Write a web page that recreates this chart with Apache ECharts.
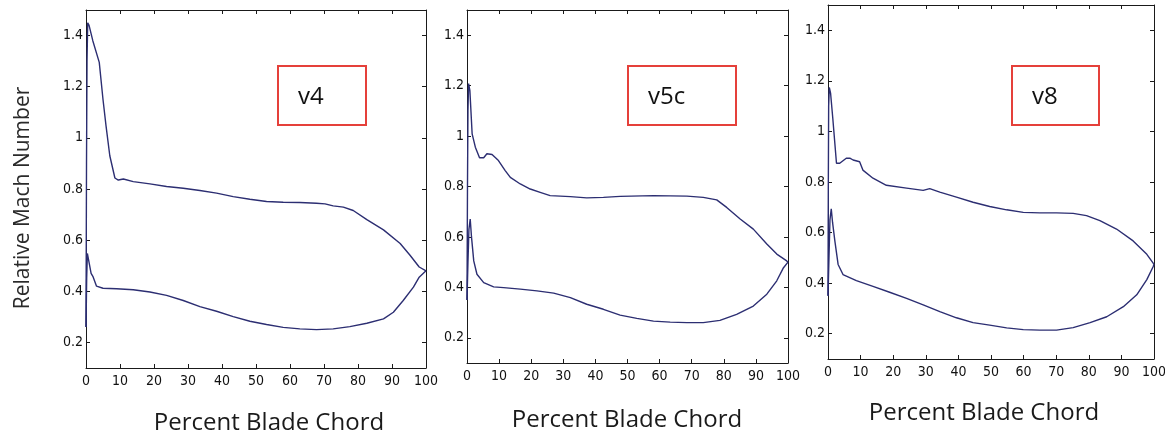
<!DOCTYPE html>
<html>
<head>
<meta charset="utf-8">
<script src="https://cdn.jsdelivr.net/npm/echarts@6/dist/echarts.min.js"></script>
<style>
  html, body { margin: 0; padding: 0; background: #ffffff; }
  #chart { width: 1165px; height: 435px; }
</style>
</head>
<body>
<div id="chart"></div>
<script>
// Relative Mach number along the blade chord for three blade designs.
// Each design has an upper (suction side) and lower (pressure side) trace, as [percent chord, Mach].
const v4Upper = [[0,0.26],[0.15,0.9],[0.3,1.3],[0.5,1.45],[0.9,1.44],[2.0,1.38],[3.9,1.295],[5.0,1.15],[5.9,1.046],[7.0,0.93],[8.5,0.843],[9.5,0.835],[11,0.839],[13.9,0.829],[18.8,0.82],[23.7,0.81],[28.6,0.803],[33.5,0.794],[38.4,0.784],[43.3,0.77],[48.2,0.76],[53.1,0.751],[58,0.748],[62.9,0.747],[67.8,0.744],[70.3,0.742],[72.7,0.734],[75.7,0.729],[78.6,0.716],[82.6,0.68],[87.5,0.64],[92.4,0.587],[95.3,0.541],[98,0.495],[100,0.48]];
const v4Lower = [[0,0.26],[0.2,0.45],[0.4,0.548],[0.8,0.52],[1.5,0.47],[2.1,0.456],[3.1,0.42],[5,0.412],[9,0.41],[13.9,0.406],[18.8,0.397],[23.7,0.384],[28.6,0.364],[33.5,0.34],[38.4,0.322],[43.3,0.301],[48.2,0.283],[53.1,0.27],[58,0.259],[62.9,0.253],[67.8,0.25],[72.7,0.253],[77.6,0.262],[82.6,0.275],[87.5,0.292],[90.4,0.318],[93.3,0.364],[96.3,0.416],[98,0.455],[100,0.48]];

const v5cUpper = [[0,0.35],[0.15,0.8],[0.3,1.1],[0.5,1.208],[0.9,1.18],[1.6,1.009],[2.6,0.956],[3.9,0.914],[5.2,0.914],[6.2,0.93],[7.8,0.927],[9.8,0.903],[11.9,0.863],[13.5,0.836],[16.6,0.81],[19.7,0.79],[22.8,0.777],[25.9,0.764],[32.2,0.76],[37.3,0.755],[42.5,0.757],[47.7,0.761],[58.1,0.764],[68.5,0.762],[73.6,0.757],[77.8,0.747],[80.9,0.717],[85.1,0.671],[89.2,0.631],[93.4,0.572],[96.5,0.532],[99.6,0.505],[100,0.5]];
const v5cLower = [[0,0.35],[0.3,0.5],[0.6,0.63],[1.0,0.671],[1.4,0.6],[2.1,0.505],[3.1,0.452],[5.2,0.419],[8.3,0.402],[11.4,0.399],[16.6,0.393],[21.8,0.386],[27,0.377],[32.2,0.359],[37.3,0.333],[42.5,0.313],[47.7,0.29],[52.9,0.277],[58.1,0.266],[63.3,0.262],[68.5,0.26],[73.6,0.26],[78.8,0.269],[84,0.293],[89.2,0.326],[93.4,0.373],[96.5,0.426],[98.6,0.478],[100,0.5]];

const v8Upper = [[0,0.35],[0.1,0.8],[0.2,1.1],[0.4,1.174],[0.8,1.15],[1.5,1.047],[2.6,0.874],[3.6,0.874],[5.6,0.894],[6.7,0.894],[7.7,0.887],[9.7,0.88],[10.7,0.847],[13.8,0.815],[17.9,0.787],[24.1,0.776],[29.2,0.767],[31.2,0.774],[34.3,0.76],[39.4,0.74],[44.5,0.72],[49.6,0.703],[54.8,0.69],[59.9,0.68],[65,0.678],[70.1,0.678],[75.2,0.676],[79.3,0.667],[83.4,0.647],[88.5,0.614],[93.6,0.567],[97.8,0.514],[99.8,0.478],[100,0.475]];
const v8Lower = [[0,0.35],[0.3,0.5],[0.6,0.65],[1.0,0.694],[1.4,0.64],[2.1,0.567],[3.1,0.474],[4.6,0.434],[8.7,0.41],[13.8,0.387],[18.9,0.364],[24.1,0.34],[29.2,0.314],[34.3,0.287],[39.4,0.263],[44.5,0.244],[49.6,0.234],[54.8,0.223],[59.9,0.216],[65,0.214],[70.1,0.214],[75.2,0.224],[80.4,0.244],[85.5,0.267],[90.6,0.307],[94.7,0.354],[97.8,0.414],[99.8,0.467],[100,0.475]];

const panelNames = ['v4', 'v5c', 'v8'];
const yTickValues = [0.2, 0.4, 0.6, 0.8, 1, 1.2, 1.4];
const xTitle = 'Percent Blade Chord';
const yTitle = 'Relative Mach Number';

const panels = [
  { upper: v4Upper,  lower: v4Lower },
  { upper: v5cUpper, lower: v5cLower },
  { upper: v8Upper,  lower: v8Lower }
];

// plot boxes
const grids = [
  { left: 86,  top: 10, width: 340, height: 358 },
  { left: 467, top: 10, width: 321, height: 353 },
  { left: 828, top: 5,  width: 326, height: 354 }
];
// label boxes and axis titles
const tagBoxes = [
  { x: 278,  y: 66, w: 88, h: 59 },
  { x: 628,  y: 66, w: 108, h: 59 },
  { x: 1012, y: 66, w: 87, h: 59 }
];
const xTitlePos = [[269, 423], [627, 420], [984, 413]];

const tickFont = "'DejaVu Sans Condensed', 'Liberation Sans Narrow', 'Arial Narrow', sans-serif";
const textFont = "'Open Sans', 'Noto Sans', sans-serif";
const lineColor = '#2c2e72';
const axisColor = '#1a1a1a';

const xAxes = [], yAxes = [], series = [];
grids.forEach((g, i) => {
  const common = {
    gridIndex: i,
    axisLine: { show: true, onZero: false, lineStyle: { color: axisColor, width: 1 } },
    axisTick: { show: true, inside: true, length: 4, lineStyle: { color: axisColor, width: 1 } },
    splitLine: { show: false }
  };
  xAxes.push(Object.assign({}, common, {
    type: 'value', position: 'bottom', min: 0, max: 100, interval: 10,
    axisLabel: { show: true, color: '#111', fontFamily: tickFont, fontSize: 14, margin: 6 }
  }));
  xAxes.push(Object.assign({}, common, {
    type: 'value', position: 'top', min: 0, max: 100, interval: 10,
    axisLabel: { show: false }
  }));
  yAxes.push(Object.assign({}, common, {
    type: 'value', position: 'left', min: 0.1, max: 1.5,
    axisTick: Object.assign({}, common.axisTick, { customValues: yTickValues }),
    axisLabel: { show: true, color: '#111', fontFamily: tickFont, fontSize: 14, margin: 3, customValues: yTickValues }
  }));
  yAxes.push(Object.assign({}, common, {
    type: 'value', position: 'right', min: 0.1, max: 1.5,
    axisTick: Object.assign({}, common.axisTick, { customValues: yTickValues }),
    axisLabel: { show: false }
  }));
  ['upper', 'lower'].forEach(side => {
    series.push({
      type: 'line',
      xAxisIndex: i * 2,
      yAxisIndex: i * 2,
      data: panels[i][side],
      showSymbol: false,
      smooth: false,
      lineStyle: { color: lineColor, width: 1.4 },
      silent: true
    });
  });
});

const graphics = [];
tagBoxes.forEach((b, i) => {
  graphics.push({
    type: 'rect',
    shape: { x: b.x, y: b.y, width: b.w, height: b.h },
    style: { fill: '#ffffff', stroke: '#e5403a', lineWidth: 2 },
    z: 10
  });
  graphics.push({
    type: 'text',
    x: b.x + 20,
    y: b.y + b.h / 2 + 2,
    style: { text: panelNames[i], font: "24px " + textFont, fill: '#111', verticalAlign: 'middle' },
    z: 11
  });
});
xTitlePos.forEach(p => {
  graphics.push({
    type: 'text',
    x: p[0], y: p[1],
    style: { text: xTitle, font: "24px " + textFont, fill: '#1a1a1a', align: 'center', verticalAlign: 'middle' },
    z: 11
  });
});
graphics.push({
  type: 'text',
  x: 23, y: 198,
  rotation: Math.PI / 2,
  style: { text: yTitle, font: "21px " + textFont, fill: '#2a2a2a', align: 'center', verticalAlign: 'middle' },
  z: 11
});

const chart = echarts.init(document.getElementById('chart'), null, { renderer: 'canvas' });
chart.setOption({
  backgroundColor: '#ffffff',
  animation: false,
  grid: grids.map(g => Object.assign({ containLabel: false, outerBoundsMode: 'none', show: false }, g)),
  xAxis: xAxes,
  yAxis: yAxes,
  series: series,
  graphic: graphics
});
</script>
</body>
</html>
